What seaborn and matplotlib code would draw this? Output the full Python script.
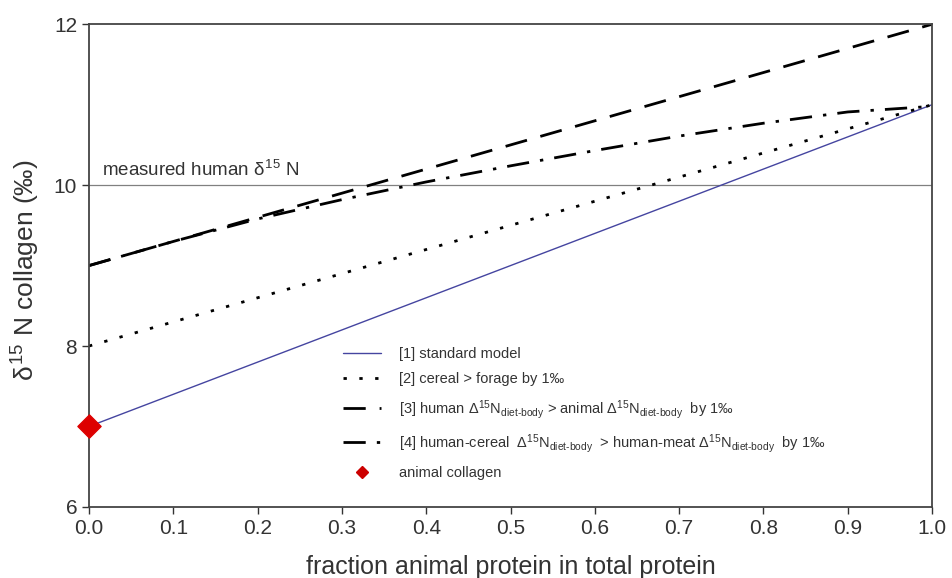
import numpy as np
import pandas as pd
import matplotlib
matplotlib.use("Agg")
import matplotlib.pyplot as plt
import seaborn as sns
from matplotlib.lines import Line2D

sns.set_theme(style="ticks")
plt.rcParams['font.family'] = ['Liberation Sans', 'DejaVu Sans']
plt.rcParams['mathtext.fontset'] = 'custom'
plt.rcParams['mathtext.rm'] = 'Liberation Sans'
plt.rcParams['mathtext.it'] = 'Liberation Sans'

# data
fraction = [0.0, 0.1, 0.2, 0.3, 0.4, 0.5, 0.6, 0.7, 0.8, 0.9, 1.0]
standard_model = [7.0, 7.4, 7.8, 8.2, 8.6, 9.0, 9.4, 9.8, 10.2, 10.6, 11.0]
cereal_forage = [8.0, 8.3, 8.6, 8.9, 9.2, 9.5, 9.8, 10.1, 10.4, 10.7, 11.0]
human_animal = [9.0, 9.3, 9.6, 9.9, 10.2, 10.5, 10.8, 11.1, 11.4, 11.7, 12.0]
cereal_meat = [9.0, 9.3, 9.58, 9.82, 10.04, 10.24, 10.43, 10.61, 10.77, 10.91, 10.98]
measured_human = 10.0
animal_collagen_x = [0.0]
animal_collagen_y = [7.0]

labels = [
    "[1] standard model",
    "[2] cereal > forage by 1‰",
    "[3] human $\\Delta^{15}$N$_{\\mathrm{diet\\text{-}body}}$ > animal $\\Delta^{15}$N$_{\\mathrm{diet\\text{-}body}}$  by 1‰",
    "[4] human-cereal  $\\Delta^{15}$N$_{\\mathrm{diet\\text{-}body}}$  > human-meat $\\Delta^{15}$N$_{\\mathrm{diet\\text{-}body}}$  by 1‰",
    "animal collagen",
]

TXT = '#333333'
fig = plt.figure(figsize=(9.53, 5.78), dpi=100)
ax = fig.add_axes([0.0934, 0.123, 0.8846, 0.835])

ax.axhline(measured_human, color='#808080', lw=0.9, zorder=1)

df = pd.DataFrame({"x": fraction, "s1": standard_model, "s2": cereal_forage,
                   "s3": human_animal, "s4": cereal_meat})

sns.lineplot(data=df, x="x", y="s1", ax=ax, color='#4545a0', lw=1.0)
sns.lineplot(data=df, x="x", y="s2", ax=ax, color='black', lw=2.0)
ax.lines[-1].set_dashes([1.2, 4.5])
sns.lineplot(data=df, x="x", y="s3", ax=ax, color='black', lw=2.0)
ax.lines[-1].set_dashes([8, 5])
sns.lineplot(data=df, x="x", y="s4", ax=ax, color='black', lw=2.0)
ax.lines[-1].set_dashes([8, 4, 1.2, 4])

sns.scatterplot(x=animal_collagen_x, y=animal_collagen_y, ax=ax, marker='D', s=140,
                color='#dd0000', edgecolor='#dd0000', zorder=5, clip_on=False)

ax.text(0.015, 10.12, "measured human $\\delta^{15}$ N", fontsize=13.5, color=TXT)

ax.set_xlim(0, 1)
ax.set_ylim(6, 12)
ax.set_xticks(np.arange(0, 1.01, 0.1))
ax.set_xticklabels([f"{v:.1f}" for v in np.arange(0, 1.01, 0.1)])
ax.set_yticks([6, 8, 10, 12])
ax.tick_params(axis='both', labelsize=15, direction='out', length=5, width=1,
               color='#333333', labelcolor=TXT)
ax.set_xlabel("fraction animal protein in total protein", fontsize=18, color=TXT)
ax.set_ylabel("$\\delta^{15}$ N collagen (‰)", fontsize=19, color=TXT)
ax.xaxis.set_label_coords(0.5, -0.1)
ax.yaxis.set_label_coords(-0.056, 0.49)
for sp in ax.spines.values():
    sp.set_color('#444444')
    sp.set_linewidth(1.3)

handles = [
    Line2D([], [], color='#4545a0', lw=1.0),
    Line2D([], [], color='black', lw=2.0, dashes=[1.2, 4.5]),
    Line2D([], [], color='black', lw=2.0, dashes=[8, 5]),
    Line2D([], [], color='black', lw=2.0, dashes=[8, 4, 1.2, 4]),
    Line2D([], [], color='#cc0000', marker='D', ls='none', markersize=6),
]
ax.legend(handles, labels, loc='lower left', bbox_to_anchor=(0.286, 0.028), frameon=False,
          fontsize=10.5, handlelength=2.6, labelspacing=0.78, handletextpad=1.2,
          labelcolor=TXT)

fig.savefig("out.png", dpi=100)
